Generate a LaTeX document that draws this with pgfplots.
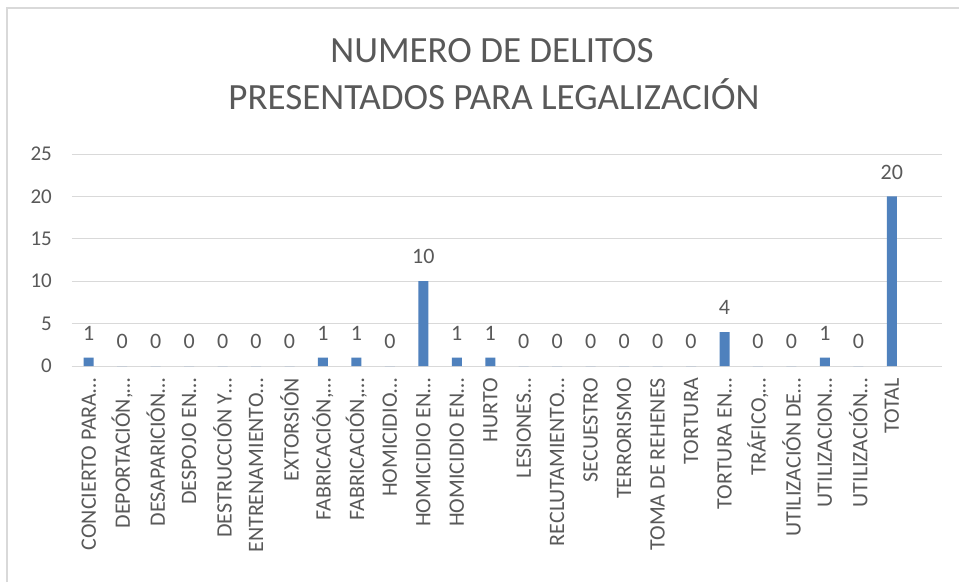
\documentclass[border=0pt]{standalone}
\usepackage{pgfplots}
\pgfplotsset{compat=1.18}
\usepackage{fontspec}
\setmainfont{Carlito}
\definecolor{txt}{HTML}{595959}
\definecolor{gridc}{HTML}{D9D9D9}
\definecolor{barc}{HTML}{4F81BD}
\begin{document}
\begin{tikzpicture}[x=1pt,y=1pt]
\useasboundingbox (0,0) rectangle (959,582);
\fill[white] (0,0) rectangle (959,582);
\draw[gridc, line width=1.5pt] (7,0) -- (7,574) -- (959,574);
\node[txt, font=\fontsize{37}{44}\selectfont, anchor=base, inner sep=0] at (492,519) {NUMERO DE DELITOS};
\node[txt, font=\fontsize{37}{44}\selectfont, anchor=base, inner sep=0] at (494,472) {PRESENTADOS PARA LEGALIZACIÓN};
\begin{axis}[
  at={(72pt,216pt)}, anchor=south west,
  scale only axis, width=870pt, height=212pt,
  xmin=-0.5, xmax=25.5, ymin=0, ymax=25,
  enlargelimits=false,
  ytick={0,5,10,15,20,25},
  ymajorgrids, grid style={gridc, line width=1pt},
  axis x line*=bottom, axis y line*=left,
  y axis line style={draw=none},
  x axis line style={gridc, line width=1pt, -},
  major tick length=0pt, tick style={draw=none},
  ybar, bar width=10pt,
  xtick={0,...,24},
  xticklabels={CONCIERTO PARA…,{DEPORTACIÓN,…},DESAPARICIÓN…,DESPOJO EN…,DESTRUCCIÓN Y…,ENTRENAMIENTO…,EXTORSIÓN,{FABRICACIÓN,…},{FABRICACIÓN,…},HOMICIDIO…,HOMICIDIO EN…,HOMICIDIO EN…,HURTO,LESIONES…,RECLUTAMIENTO…,SECUESTRO,TERRORISMO,TOMA DE REHENES,TORTURA,TORTURA EN…,{TRÁFICO,…},UTILIZACIÓN DE…,UTILIZACION…,UTILIZACIÓN…,TOTAL},
  xticklabel style={yshift=-12pt, rotate=90, anchor=east, inner sep=0pt, font=\fontsize{22}{26}\selectfont, text=txt},
  yticklabel style={xshift=-20pt, anchor=east, inner sep=0pt, font=\fontsize{21}{25}\selectfont, text=txt},
  /pgf/number format/assume math mode=true,
  nodes near coords,
  every node near coord/.append style={font=\fontsize{22}{26}\selectfont, text=txt, anchor=south, inner sep=0pt, yshift=17pt},
]
\addplot[fill=barc, draw=none] coordinates {
(0,1) (1,0) (2,0) (3,0) (4,0) (5,0) (6,0) (7,1) (8,1) (9,0) (10,10) (11,1) (12,1)
(13,0) (14,0) (15,0) (16,0) (17,0) (18,0) (19,4) (20,0) (21,0) (22,1) (23,0) (24,20)};
\end{axis}
\end{tikzpicture}
\end{document}
